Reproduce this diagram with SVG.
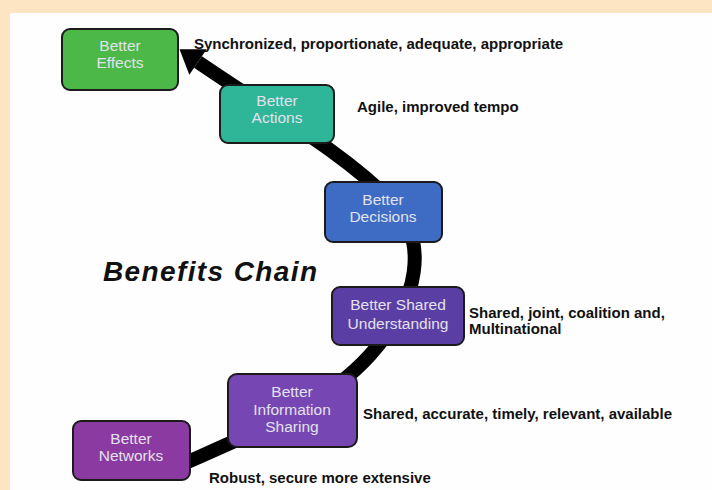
<svg xmlns="http://www.w3.org/2000/svg" width="712" height="490" viewBox="0 0 712 490">
<defs>
<style>
.box{stroke:#1b1b1b;stroke-width:2}
.lbl{font-family:"Liberation Sans",Arial,sans-serif;font-size:15.5px;fill:#e2e2ec;text-anchor:middle}
.note{font-family:"Liberation Sans",Arial,sans-serif;font-size:15px;font-weight:bold;fill:#111}
.title{font-family:"Liberation Sans",Arial,sans-serif;font-size:28px;font-weight:bold;font-style:italic;fill:#111}
.chain{fill:none;stroke:#000;stroke-width:14}
</style>
<marker id="ah" markerWidth="1.6" markerHeight="2.2" refX="0" refY="1.1" orient="auto" markerUnits="strokeWidth" overflow="visible">
<path d="M0,0 L1.6,1.1 L0,2.2 Z" fill="#000"/>
</marker>
</defs>
<rect x="0" y="0" width="712" height="490" fill="#fde4c3"/>
<rect x="10" y="13" width="702" height="477" fill="#fefefe"/>
<g id="connectors">
<path class="chain" d="M176 467 C260 430 325 405 370 355 C420 300 430 240 390 200 C340 150 280 118 198 62" marker-end="url(#ah)"/>
</g>
<g id="effects">
<rect class="box" x="62" y="29" width="116" height="61" rx="8" fill="#4cb848"/>
<text class="lbl" x="120" y="51">Better</text>
<text class="lbl" x="120" y="68">Effects</text>
</g>
<g id="actions">
<rect class="box" x="220" y="85" width="114" height="58" rx="8" fill="#2fb597"/>
<text class="lbl" x="277" y="106">Better</text>
<text class="lbl" x="277" y="123">Actions</text>
</g>
<g id="decisions">
<rect class="box" x="325" y="182" width="117" height="60" rx="8" fill="#3e6cc4"/>
<text class="lbl" x="383" y="205">Better</text>
<text class="lbl" x="383" y="222">Decisions</text>
</g>
<g id="understanding">
<rect class="box" x="332" y="287" width="132" height="58" rx="8" fill="#5b3ea3"/>
<text class="lbl" x="398" y="310">Better Shared</text>
<text class="lbl" x="398" y="329">Understanding</text>
</g>
<g id="information">
<rect class="box" x="228" y="374" width="129" height="73" rx="9" fill="#7646b3"/>
<text class="lbl" x="292" y="397">Better</text>
<text class="lbl" x="292" y="415">Information</text>
<text class="lbl" x="292" y="432">Sharing</text>
</g>
<g id="networks">
<rect class="box" x="73" y="421" width="117" height="59" rx="8" fill="#8a3aa0"/>
<text class="lbl" x="131" y="444">Better</text>
<text class="lbl" x="131" y="461">Networks</text>
</g>
<g id="notes">
<text class="note" x="194" y="49">Synchronized, proportionate, adequate, appropriate</text>
<text class="note" x="357" y="112">Agile, improved tempo</text>
<text class="note" x="469" y="318">Shared, joint, coalition and,</text>
<text class="note" x="469" y="334">Multinational</text>
<text class="note" x="363" y="419">Shared, accurate, timely, relevant, available</text>
<text class="note" x="209" y="483">Robust, secure more extensive</text>
<text class="title" x="103" y="281" textLength="214" lengthAdjust="spacing">Benefits Chain</text>
</g>
</svg>
